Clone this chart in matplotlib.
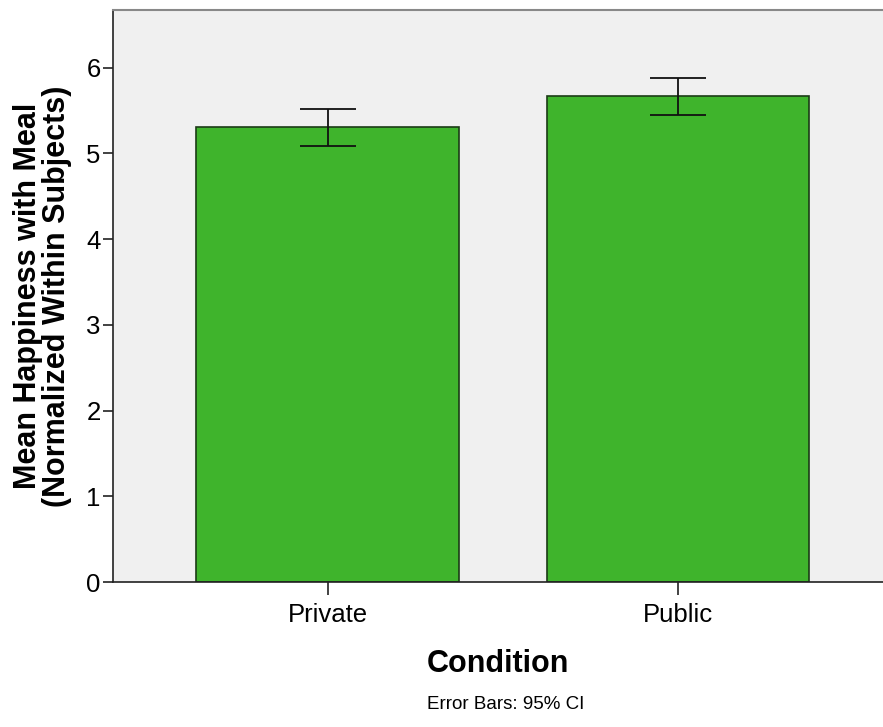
import matplotlib
matplotlib.use("Agg")
import matplotlib.pyplot as plt
import numpy as np

plt.rcParams['font.family'] = ['Liberation Sans', 'DejaVu Sans']

categories = ["Private", "Public"]
means = [5.31, 5.67]
ci_low = [5.085, 5.45]
ci_high = [5.52, 5.88]
yticks = [0, 1, 2, 3, 4, 5, 6]

fig = plt.figure(figsize=(8.83, 7.27), dpi=100)
ax = fig.add_axes([0.128, 0.1994, 0.872, 0.7866])
ax.set_facecolor('#f0f0f0')

x = np.arange(len(categories))
m = np.array(means)
err = np.vstack([m - np.array(ci_low), np.array(ci_high) - m])
ax.bar(x, m, width=0.75, color='#3fb42c', edgecolor='#1b3b16', linewidth=1.2, zorder=2)
ax.errorbar(x, m, yerr=err, fmt='none', ecolor='#111111', elinewidth=1.3,
            capsize=20, capthick=1.3, zorder=3)

ax.set_xlim(-0.612, 1.585)
ax.set_ylim(0, 6.67)
ax.set_yticks(yticks)
ax.set_xticks(x)
ax.set_xticklabels(categories)
ax.tick_params(axis='both', labelsize=18.5, length=7, width=1.2, color='#222222', pad=2)
ax.tick_params(axis='x', length=9, pad=6)

for s in ['left', 'bottom']:
    ax.spines[s].set_color('#222222')
    ax.spines[s].set_linewidth(1.2)
ax.spines['top'].set_color('#888888')
ax.spines['top'].set_linewidth(1.5)
ax.spines['right'].set_visible(False)

ax.set_ylabel("Mean Happiness with Meal\n(Normalized Within Subjects)",
              fontsize=22, fontweight='bold', labelpad=10, linespacing=0.95)
ax.set_xlabel("Condition", fontsize=22, fontweight='bold', labelpad=16)

fig.text(0.573, 0.031, "Error Bars: 95% CI", fontsize=13.5, ha='center', va='center')

fig.savefig("out.png", dpi=100)
